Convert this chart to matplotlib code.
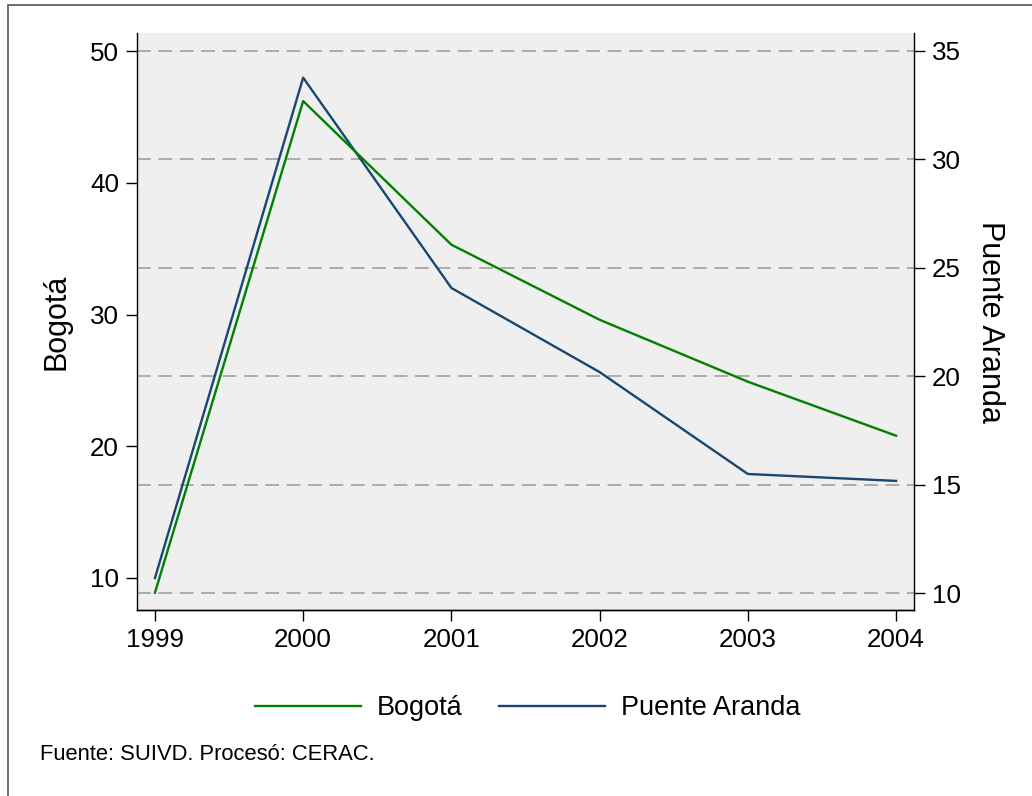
import matplotlib
matplotlib.use('Agg')
from matplotlib import pyplot as plt
from matplotlib.patches import Rectangle

plt.rcParams['font.family'] = ['Liberation Sans', 'DejaVu Sans']

years = [1999, 2000, 2001, 2002, 2003, 2004]
bogota = [8.88, 46.2, 35.3, 29.6, 24.9, 20.8]
puente_aranda = [10.69, 33.77, 24.07, 20.19, 15.49, 15.17]

left_ticks = [10, 20, 30, 40, 50]
right_ticks = [10, 15, 20, 25, 30, 35]

green = '#008000'
navy = '#1a476f'

fig = plt.figure(figsize=(10.32, 7.96), dpi=100)
fig.patch.set_facecolor('white')

# outer frame, only top/left edges fall inside the picture
fig.add_artist(Rectangle((8 / 1032, -0.1), 1.2, 1 - 5 / 796 + 0.1,
                         transform=fig.transFigure, fill=False,
                         edgecolor='#555555', linewidth=1.2))

ax2 = fig.add_axes([137 / 1032, 1 - 610 / 796, (914 - 137) / 1032, (610 - 33) / 796])
ax = ax2.twinx()
# left axis (Bogota) in front, right axis (Puente Aranda) behind with the grid
ax.yaxis.tick_left()
ax.yaxis.set_label_position('left')
ax2.yaxis.tick_right()
ax2.yaxis.set_label_position('right')
ax2.set_facecolor('#efefef')
ax.patch.set_visible(False)

l2, = ax2.plot(years, puente_aranda, color=navy, linewidth=1.7, label='Puente Aranda')
l1, = ax.plot(years, bogota, color=green, linewidth=1.7, label='Bogotá')

ax.set_xlim(1998.879, 2004.121)
ax.set_ylim(7.57, 51.37)
ax2.set_ylim(9.216, 35.83)

ax.set_yticks(left_ticks)
ax2.set_yticks(right_ticks)
ax2.set_xticks(years)
ax2.set_xticklabels([str(y) for y in years])

ax2.grid(axis='y', color='#999999', linestyle=(0, (9, 5)), linewidth=1.1)
ax2.grid(axis='x', visible=False)

for a in (ax, ax2):
    a.spines['top'].set_visible(False)
    for s in ('left', 'right', 'bottom'):
        a.spines[s].set_linewidth(1.0)
    a.tick_params(labelsize=18.7, length=8, width=1.0, direction='out', pad=5)
ax.spines['right'].set_visible(False)
ax2.spines['left'].set_visible(False)

ax.set_ylabel('Bogotá', fontsize=22, labelpad=13)
ax2.set_ylabel('Puente Aranda', fontsize=22, rotation=270, labelpad=32)

fig.legend(handles=[l1, l2], loc='center', bbox_to_anchor=(528 / 1032, 1 - 708 / 796),
           ncol=2, frameon=False, fontsize=19.5, handlelength=3.9,
           handletextpad=0.6, columnspacing=1.35)

fig.text(40 / 1032, 1 - 755 / 796, 'Fuente: SUIVD. Procesó: CERAC.', fontsize=15.8,
         ha='left', va='center')

fig.savefig('out.png', dpi=100)
